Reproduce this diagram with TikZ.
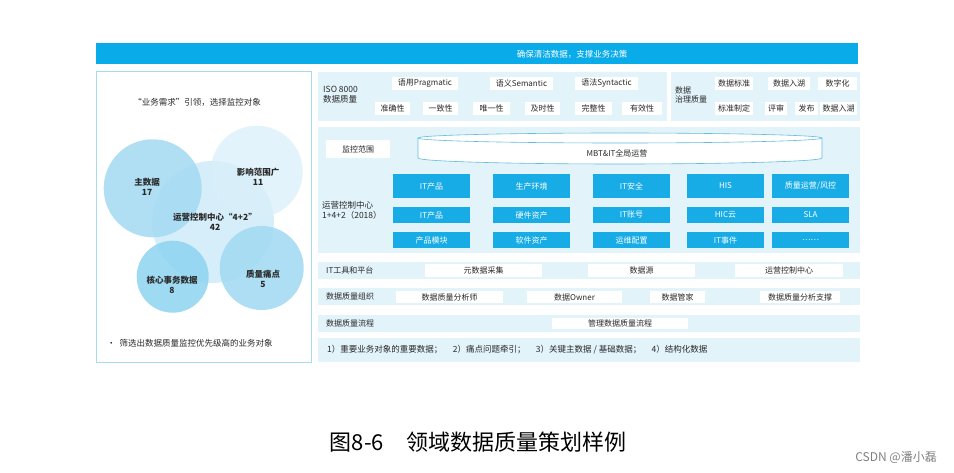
\documentclass[tikz,border=0pt]{standalone}
\usepackage{fontspec}
\setmainfont{Noto Sans CJK SC}
\usetikzlibrary{positioning}
\definecolor{BarBlue}{HTML}{0AABE9}
\definecolor{PanelBlue}{HTML}{E2F3FA}
\definecolor{TileBlue}{HTML}{17ACE6}
\definecolor{EdgeBlue}{HTML}{A7DCEC}
\definecolor{RimBlue}{HTML}{62BCDD}
\definecolor{TextDark}{HTML}{2A2A2A}
\definecolor{BubMain}{HTML}{A3DAF2}
\definecolor{BubWide}{HTML}{D9F0FA}
\definecolor{BubCore}{HTML}{CFECF8}
\definecolor{BubTrans}{HTML}{8ED4F0}
\definecolor{BubPain}{HTML}{9FD9F2}

\begin{document}
\begin{tikzpicture}[x=1pt, y=-1pt,
  every node/.style={font=\fontsize{8}{9.5}\selectfont, text=TextDark, inner sep=0pt},
  panel/.style={fill=PanelBlue, minimum width=542pt, minimum height=17pt},
  wbox/.style={fill=white, minimum height=13pt},
  tile/.style={fill=TileBlue, text=white, minimum width=77pt, minimum height=16pt},
  bubble/.style={circle, draw=none, fill opacity=0.85},
  blabel/.style={align=center, font=\fontsize{8.5}{10}\selectfont\bfseries},
  rowlabel/.style={anchor=west},
  rim/.style={draw=RimBlue, fill=white, line width=0.6pt},
]
  \useasboundingbox (0,0) rectangle (954,473);

  % Banner
  \node[fill=BarBlue, minimum width=762pt, minimum height=21pt] (banner) at (477,53.5) {};
  \node[text=white, font=\fontsize{8.5}{10}\selectfont] (bannertxt) at (572,54) {确保清洁数据，支撑业务决策};

  % Left panel
  \node[draw=EdgeBlue, line width=1pt, fill=white,
        minimum width=215pt, minimum height=290pt] (left) at (203.5,217) {};
  \node[font=\fontsize{8.5}{10}\selectfont] (lefttitle) at (197,102) {“业务需求”引领，选择监控对象};
  \node[bubble, fill=BubCore,  minimum size=122pt] (cCore)  at (213,222) {};
  \node[bubble, fill=BubMain,  minimum size=98pt]  (cMain)  at (152.7,188.3) {};
  \node[bubble, fill=BubWide,  minimum size=92pt, fill opacity=0.75] (cWide) at (256.7,171.7) {};
  \node[bubble, fill=BubTrans, minimum size=72pt]  (cTrans) at (172.7,276.7) {};
  \node[bubble, fill=BubPain,  minimum size=84pt]  (cPain)  at (261.7,268) {};
  \node[blabel] (tMain)  at (147,187) {主数据\\17};
  \node[blabel] (tWide)  at (258,177) {影响范围广\\11};
  \node[blabel] (tCore)  at (215,222) {运营控制中心“4+2”\\42};
  \node[blabel] (tTrans) at (172,285) {核心事务数据\\8};
  \node[blabel] (tPain)  at (263,279) {质量痛点\\5};
  \node[anchor=west, font=\fontsize{8.5}{10}\selectfont] (leftnote) at (107,343) {•\ \ 筛选出数据质量监控优先级高的业务对象};

  % ISO 8000 panel
  \node[fill=PanelBlue, minimum width=349pt, minimum height=49pt] (iso) at (492.5,96.5) {};
  \node[anchor=west, align=left, font=\fontsize{8.5}{10}\selectfont] (isolbl) at (323,95) {ISO 8000\\数据质量};
  \node[wbox, minimum width=66pt] (prag) at (425,83.5)   {语用Pragmatic};
  \node[wbox, minimum width=63pt] (sem)  at (521.5,83.5) {语义Semantic};
  \node[wbox, minimum width=63pt] (syn)  at (606.5,83.5) {语法Syntactic};
  \node[wbox, minimum width=35pt] (acc)  at (392.5,108.5) {准确性};
  \node[wbox, minimum width=35pt] (cons) at (440.5,108.5) {一致性};
  \node[wbox, minimum width=37pt] (uniq) at (491.5,108.5) {唯一性};
  \node[wbox, minimum width=35pt] (time) at (542.5,108.5) {及时性};
  \node[wbox, minimum width=37pt] (comp) at (593.5,108.5) {完整性};
  \node[wbox, minimum width=40pt] (valid) at (642,108.5) {有效性};

  % Governance panel
  \node[fill=PanelBlue, minimum width=189pt, minimum height=49pt] (gov) at (765.5,96.5) {};
  \node[anchor=west, align=left] (govlbl) at (675,95) {数据\\治理质量};
  \node[wbox, minimum width=38pt] (std)   at (734,83.5)   {数据标准};
  \node[wbox, minimum width=42pt] (lake)  at (789,83.5)   {数据入湖};
  \node[wbox, minimum width=39pt] (digi)  at (837.5,83.5) {数字化};
  \node[wbox, minimum width=38pt] (mkstd) at (734,108.5)  {标准制定};
  \node[wbox, minimum width=22pt] (rev)   at (776,108.5)  {评审};
  \node[wbox, minimum width=23pt] (pub)   at (806.5,108.5) {发布};
  \node[wbox, minimum width=37pt] (lake2) at (838.5,108.5) {数据入湖};

  % Operations panel
  \node[fill=PanelBlue, minimum width=542pt, minimum height=126pt] (ops) at (589,190) {};
  \node[wbox, minimum width=64pt, minimum height=18pt] (scope) at (358,149) {监控范围};
  \draw[rim] (418,138) -- (418,158) arc (180:0:202 and 6) -- (822,138);
  \draw[rim] (620,138) ellipse (202 and 5);
  \node (global) at (617,153) {MBT\&IT全局运营};
  \node[anchor=west, align=left, font=\fontsize{8.5}{10}\selectfont] (opslbl) at (322,210) {运营控制中心\\1+4+2（2018）};

  \node[tile, minimum height=24pt] (t11) at (431.5,186) {IT产品};
  \node[tile, minimum height=24pt] (t12) at (531.5,186) {生产环境};
  \node[tile, minimum height=24pt] (t13) at (631.5,186) {IT安全};
  \node[tile, minimum height=24pt] (t14) at (725.5,186) {HIS};
  \node[tile, minimum height=24pt] (t15) at (810.5,186) {质量运营/风控};
  \node[tile] (t21) at (431.5,215) {IT产品};
  \node[tile] (t22) at (531.5,215) {硬件资产};
  \node[tile] (t23) at (631.5,215) {IT账号};
  \node[tile] (t24) at (725.5,215) {HIC云};
  \node[tile] (t25) at (810.5,215) {SLA};
  \node[tile] (t31) at (431.5,240) {产品模块};
  \node[tile] (t32) at (531.5,240) {软件资产};
  \node[tile] (t33) at (631.5,240) {运维配置};
  \node[tile] (t34) at (725.5,240) {IT事件};
  \node[tile] (t35) at (810.5,240) {……};

  % Lower rows
  \node[panel] (tools) at (589,270.5) {};
  \node[rowlabel] (toolslbl) at (326,270.5) {IT工具和平台};
  \node[wbox, minimum width=117pt] (meta) at (483.5,270.5) {元数据采集};
  \node[wbox, minimum width=107pt] (src)  at (641.5,270.5) {数据源};
  \node[wbox, minimum width=108pt] (occ)  at (789,270.5)   {运营控制中心};

  \node[panel] (org) at (589,296.5) {};
  \node[rowlabel] (orglbl) at (326,296.5) {数据质量组织};
  \node[wbox, minimum width=107pt, minimum height=12pt] (analyst) at (449.5,297) {数据质量分析师};
  \node[wbox, minimum width=95pt,  minimum height=12pt] (owner)   at (574.5,297) {数据Owner};
  \node[wbox, minimum width=55pt,  minimum height=12pt] (steward) at (677.5,297) {数据管家};
  \node[wbox, minimum width=80pt,  minimum height=12pt] (support) at (800,297)   {数据质量分析支撑};

  \node[panel] (flow) at (589,323.5) {};
  \node[rowlabel] (flowlbl) at (326,323.5) {数据质量流程};
  \node[wbox, minimum width=136pt, minimum height=11pt] (mgmt) at (620,323.5) {管理数据质量流程};

  \node[panel, minimum height=24pt] (focus) at (589,350) {};
  \node[rowlabel, font=\fontsize{8.5}{10}\selectfont] (focustxt) at (327,350)
    {1）重要业务对象的重要数据；\quad\ 2）痛点问题牵引；\quad\ 3）关键主数据 / 基础数据；\quad\ 4）结构化数据};

  % Caption
  \node[font=\fontsize{22}{26}\selectfont, text=black] (caption) at (478,442) {图8-6\quad 领域数据质量策划样例};
  \node[font=\fontsize{12}{14}\selectfont, text=gray, anchor=east] (mark) at (937,457) {CSDN @潘小磊};
\end{tikzpicture}
\end{document}
